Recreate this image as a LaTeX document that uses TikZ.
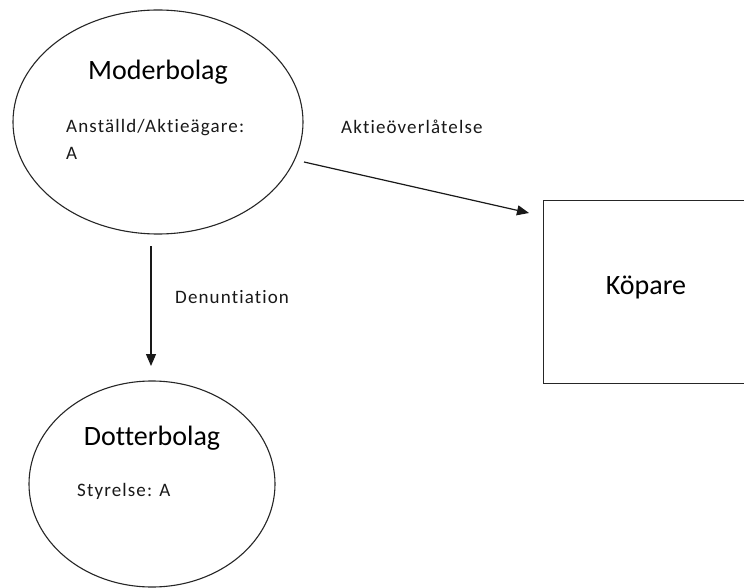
\documentclass[tikz,border=0pt]{standalone}
\usepackage{fontspec}
\setmainfont{Carlito}[Ligatures=CommonOff]
\usetikzlibrary{arrows.meta}
\tikzset{
  shapeline/.style={draw=black!85, line width=1.1pt},
  title/.style={font=\fontsize{28}{32}\selectfont, text=black, inner sep=0pt},
  small/.style={font=\fontsize{19}{24}\selectfont\addfontfeature{LetterSpace=6}, text=black!90, inner sep=0pt},
  conn/.style={draw=black!90, line width=1.2pt, -{Triangle[length=12pt,width=10pt]}}
}
\begin{document}
\begin{tikzpicture}[x=1pt,y=-1pt]
\clip (0,0) rectangle (744,588);
\fill[white] (0,0) rectangle (744,588);
% Moderbolag
\draw[shapeline] (158,122) ellipse [x radius=145, y radius=112];
\node[title] (modt) at (158,72) {Moderbolag};
\node[small, anchor=west, align=left] (moda) at (66,128) {Anställd/Aktieägare:};
\node[small, anchor=west] (modb) at (66,153) {A};
% Dotterbolag
\draw[shapeline] (152,484) ellipse [x radius=123, y radius=103];
\node[title] (dott) at (152,438) {Dotterbolag};
\node[small, anchor=west] (dota) at (77,491) {Styrelse: A};
% Köpare
\node[shapeline, anchor=north west, minimum width=260pt, minimum height=183pt, inner sep=0pt] (kop) at (543,200) {};
\node[title] (kopt) at (646,287) {Köpare};
% connectors
\coordinate (a1) at (304,162);
\coordinate (a2) at (529,213);
\coordinate (b1) at (151,246);
\coordinate (b2) at (151,366);
\draw[conn] (a1) -- (a2);
\draw[conn] (b1) -- (b2);
\node[small, anchor=west] (lab1) at (341,127) {Aktieöverlåtelse};
\node[small, anchor=west] (lab2) at (175,297) {Denuntiation};
\end{tikzpicture}
\end{document}
